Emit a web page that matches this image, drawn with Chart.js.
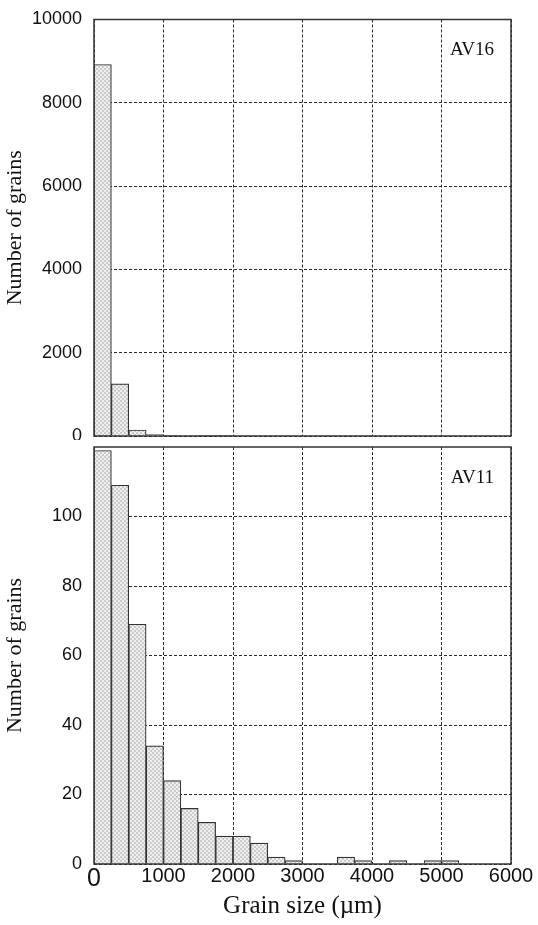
<!DOCTYPE html>
<html>
<head>
<meta charset="utf-8">
<script src="https://cdn.jsdelivr.net/npm/chart.js@4/dist/chart.umd.min.js"></script>
<style>
  html, body { margin: 0; padding: 0; background: #fff; }
  #wrap { position: relative; width: 538px; height: 925px; }
  .box { position: absolute; left: 0; width: 538px; }
  #box-top { top: 0; height: 440px; }
  #box-bottom { top: 440px; height: 485px; }
</style>
</head>
<body>
<div id="wrap">
  <div class="box" id="box-top"><canvas id="chart-av16"></canvas></div>
  <div class="box" id="box-bottom"><canvas id="chart-av11"></canvas></div>
</div>
<script>
// bin centres (grain size, µm), bins 250 µm wide
const binCenters = [125, 375, 625, 875, 1125, 1375, 1625, 1875, 2125, 2375, 2625, 2875,
                    3125, 3375, 3625, 3875, 4125, 4375, 4625, 4875, 5125, 5375, 5625, 5875];
const countsAV16 = [8920, 1250, 145, 35, 15, 0, 10, 10, 0, 0, 0, 0,
                    0, 0, 0, 0, 0, 0, 0, 0, 0, 0, 0, 0];
const countsAV11 = [119, 109, 69, 34, 24, 16, 12, 8, 8, 6, 2, 1,
                    0, 0, 2, 1, 0, 1, 0, 1, 1, 0, 0, 0];
const xTicks = [0, 1000, 2000, 3000, 4000, 5000, 6000];
const yTicksAV16 = [0, 2000, 4000, 6000, 8000, 10000];
const yTicksAV11 = [0, 20, 40, 60, 80, 100];

const SANS = '"Liberation Sans", Arial, sans-serif';
const SERIF = '"Liberation Serif", "Times New Roman", serif';
const LINE = '#333';

function makePattern() {
    const c = document.createElement('canvas');
    c.width = 4; c.height = 4;
    const g = c.getContext('2d');
    g.fillStyle = '#f0f0f0';
    g.fillRect(0, 0, 4, 4);
    g.fillStyle = '#cbcbcb';
    g.fillRect(0, 0, 2, 2);
    g.fillRect(2, 2, 2, 2);
    return g.createPattern(c, 'repeat');
}

// frame round the plot area + sample label in the corner
const framePlugin = {
    id: 'frame',
    afterDraw: function(chart, args, opts) {
        const a = chart.chartArea;
        const ctx = chart.ctx;
        ctx.save();
        ctx.strokeStyle = LINE;
        ctx.lineWidth = 1.5;
        ctx.strokeRect(a.left, a.top, a.right - a.left, a.bottom - a.top);
        ctx.fillStyle = '#111';
        ctx.font = '19px ' + SERIF;
        ctx.textAlign = 'right';
        ctx.textBaseline = 'middle';
        ctx.fillText(opts.label, a.right - 17, a.top + 31);
        ctx.restore();
    }
};

function buildChart(canvasId, counts, yMax, yTicks, label, showX) {
    const pts = binCenters.map((x, i) => ({ x: x, y: counts[i] }));
    return new Chart(document.getElementById(canvasId), {
        type: 'bar',
        data: {
            datasets: [{
                data: pts,
                backgroundColor: makePattern(),
                borderColor: LINE,
                borderWidth: 1.2,
                barPercentage: 1,
                categoryPercentage: 1
            }]
        },
        options: {
            responsive: true,
            maintainAspectRatio: false,
            animation: false,
            layout: {
                padding: { left: 0, right: 27, top: showX ? 7 : 19.5, bottom: showX ? 0 : 4 }
            },
            plugins: {
                legend: { display: false },
                tooltip: { enabled: false },
                frame: { label: label }
            },
            scales: {
                x: {
                    type: 'linear',
                    min: 0, max: 6000,
                    offset: false,
                    afterBuildTicks: s => { s.ticks = xTicks.map(v => ({ value: v })); },
                    afterFit: s => { s.height = showX ? 61 : 0; s.paddingLeft = 0; s.paddingRight = 0; },
                    grid: { offset: false, color: '#2a2a2a', lineWidth: 1, drawTicks: false },
                    border: { display: false, dash: [3, 2] },
                    ticks: {
                        display: showX,
                        padding: 0,
                        color: '#111',
                        maxRotation: 0,
                        callback: v => String(v),
                        font: c => ({ family: SANS, size: (c.tick && c.tick.value === 0) ? 25 : 20 })
                    },
                    title: {
                        display: showX,
                        text: 'Grain size (µm)',
                        color: '#111',
                        font: { family: SERIF, size: 25 },
                        padding: { top: 2, bottom: 4 }
                    }
                },
                y: {
                    min: 0, max: yMax,
                    afterBuildTicks: s => { s.ticks = yTicks.map(v => ({ value: v })); },
                    afterFit: s => { s.width = 94; s.paddingTop = 0; s.paddingBottom = 0; },
                    grid: { color: '#2a2a2a', lineWidth: 1, drawTicks: false },
                    border: { display: false, dash: [3, 2] },
                    ticks: {
                        padding: 12,
                        color: '#111',
                        callback: v => String(v),
                        font: { family: SANS, size: 18 }
                    },
                    title: {
                        display: true,
                        text: 'Number of grains',
                        color: '#111',
                        font: { family: SERIF, size: 22 },
                        padding: { top: 2, bottom: 0 }
                    }
                }
            }
        },
        plugins: [framePlugin]
    });
}

buildChart('chart-av16', countsAV16, 10000, yTicksAV16, 'AV16', false);
buildChart('chart-av11', countsAV11, 120, yTicksAV11, 'AV11', true);
</script>
</body>
</html>
